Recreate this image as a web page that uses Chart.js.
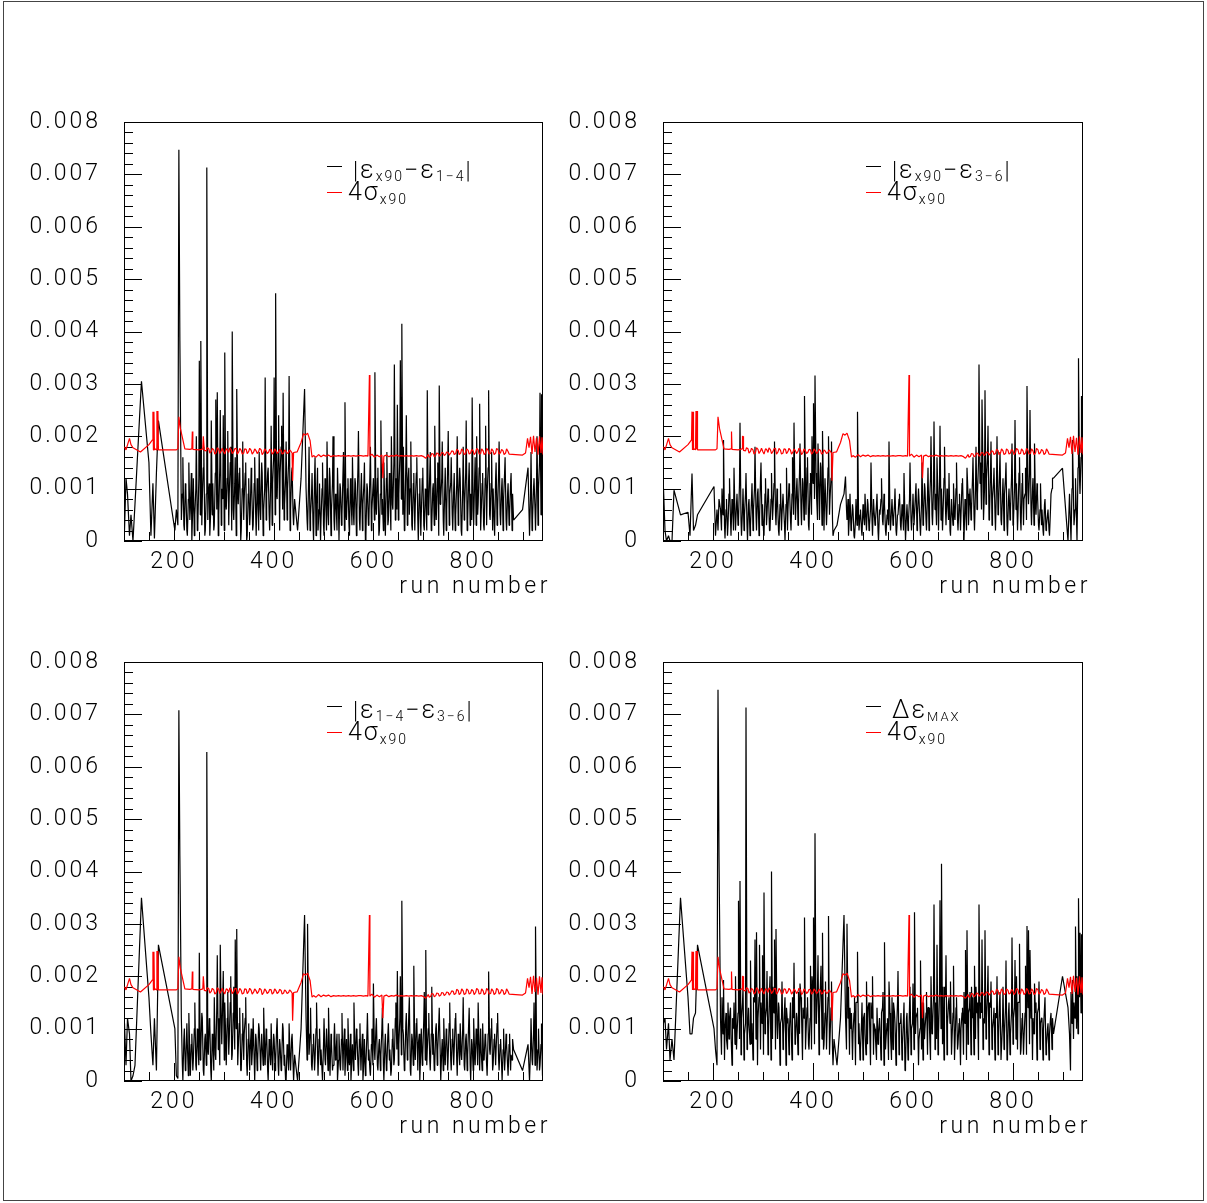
<!DOCTYPE html>
<html>
<head>
<meta charset="utf-8">
<script src="https://cdn.jsdelivr.net/npm/chart.js@4.4.1/dist/chart.umd.min.js"></script>
<style>
  body { margin: 0; background: #fff; }
  #page { position: relative; width: 1207px; height: 1203px; overflow: hidden; }
  #outer { position: absolute; left: 3px; top: 1px; width: 1199px; height: 1198px; border: 1px solid #444; }
  canvas { position: absolute; }
</style>
</head>
<body>
<div id="page">
  <div id="outer"></div>
  <canvas id="c1" width="558" height="503" style="left:0px;top:100px;width:558px;height:503px"></canvas>
  <canvas id="c2" width="559" height="503" style="left:539px;top:100px;width:559px;height:503px"></canvas>
  <canvas id="c3" width="558" height="503" style="left:0px;top:640px;width:558px;height:503px"></canvas>
  <canvas id="c4" width="559" height="503" style="left:539px;top:640px;width:559px;height:503px"></canvas>
</div>
<script>
// Run numbers shared by the four black curves
const runNumbers = [
  101,104,107,111,114,118,122,135,150,154,158,161,165,169,202,205,208,210,212,
  215,217,218,220,221,223,224,226,227,229,230,232,233,235,236,238,239,241,242,244,
  245,247,248,250,251,253,254,256,257,259,260,262,263,265,266,268,269,271,272,274,
  275,277,278,280,281,283,284,286,287,289,290,292,293,295,296,298,299,301,302,304,
  305,307,308,310,311,313,314,316,317,319,320,322,323,325,326,328,329,331,332,334,
  335,337,338,340,341,343,344,346,347,349,350,352,353,355,356,358,359,361,362,364,
  365,367,368,370,371,373,374,376,377,379,380,382,383,385,386,388,389,391,392,394,
  395,397,398,400,401,403,404,406,407,409,410,412,413,415,416,418,419,421,422,424,
  425,427,428,430,431,433,434,436,437,439,440,442,
  448,455,462,
  465,467,468,470,471,473,474,476,477,479,480,482,483,485,486,488,489,491,492,494,
  495,497,498,500,501,503,504,506,507,509,510,512,513,515,516,518,519,521,522,524,
  525,527,528,530,531,533,534,536,537,539,540,542,543,545,546,548,549,551,552,554,
  555,557,558,560,561,563,564,566,567,569,570,572,573,575,576,578,579,581,582,584,
  585,587,588,590,591,593,594,596,597,599,600,602,603,605,606,608,609,611,612,614,
  615,617,618,620,621,623,624,626,627,629,630,632,633,635,636,638,639,641,642,644,
  645,647,648,650,651,653,654,656,657,659,660,662,663,665,666,668,669,671,672,674,
  675,677,678,680,681,683,684,686,687,689,690,692,693,695,696,698,699,701,702,704,
  705,707,708,710,711,713,714,716,717,719,720,722,723,725,726,728,729,731,732,734,
  735,737,738,740,741,743,744,746,747,749,750,752,753,755,756,758,759,761,762,764,
  765,767,768,770,771,773,774,776,777,779,780,782,783,785,786,788,789,791,792,794,
  795,797,798,800,801,803,804,806,807,809,810,812,813,815,816,818,819,821,822,824,
  825,827,828,830,831,833,834,836,837,839,840,842,843,845,846,848,849,851,852,854,
  855,857,858,860,861,863,864,866,867,869,870,872,873,875,876,878,879,881,
  899,910,
  913,915,916,918,919,921,922,924,925,927,928,930,931,933,934,936,937,939,940
];

// Black curves, in units of 1e-3
// |eps_x90 - eps_1-4|
const diffX90vs14 = [
  0.2,1.2,0.9,0.1,0.5,0.0,0.7,3.05,1.5,0.1,1.1,0.05,1.3,2.3,0.2,0.6,0.3,7.47,3.82,
  0.4,0.9,1.6,0.3,0.2,1.1,1.0,0.2,0.1,0.8,1.5,0.4,0.6,1.3,0.0,0.7,1.2,0.1,0.5,1.0,
  2.0,0.2,0.3,1.2,3.44,0.5,3.82,0.3,0.8,1.4,1.8,0.1,0.2,0.9,7.13,0.4,0.9,1.1,0.1,0.6,
  2.3,0.5,1.1,0.2,0.3,1.3,2.7,0.6,2.84,0.1,0.5,1.4,2.5,0.3,1.0,0.8,2.4,0.2,3.6,0.7,
  0.6,1.2,2.1,0.3,0.9,1.5,1.8,0.2,4.0,0.6,0.4,1.1,1.6,0.1,2.9,0.9,0.7,1.3,1.4,0.0,
  0.2,1.0,1.9,0.4,0.8,1.3,1.5,0.0,0.1,0.9,1.2,0.3,0.5,1.4,1.1,0.2,0.3,1.1,1.6,0.5,
  0.1,1.2,0.9,0.2,1.7,0.6,0.4,1.5,1.3,0.1,0.6,1.0,3.12,0.4,0.9,1.3,1.4,0.5,0.2,1.1,
  2.2,0.3,1.1,1.6,3.12,0.5,4.73,0.9,0.8,1.7,2.4,0.2,1.3,1.8,2.2,0.6,2.83,0.4,0.7,1.2,
  1.9,0.4,1.0,1.5,3.15,0.2,0.6,1.3,1.4,0.5,0.3,0.8,
  0.2,1.2,2.9,
  1.0,0.4,0.2,1.1,1.8,0.2,0.5,0.9,1.3,0.3,0.0,1.2,1.6,0.1,0.7,1.4,0.2,0.6,1.1,0.0,
  0.4,1.0,1.5,0.3,0.1,1.2,0.9,0.2,1.9,0.5,0.3,1.4,1.2,0.1,0.6,1.1,2.0,0.4,0.2,0.9,
  0.8,0.2,1.4,0.6,0.0,1.1,1.0,0.3,0.5,1.3,1.7,0.2,2.65,0.5,0.4,1.0,1.2,0.3,0.1,1.2,
  0.9,0.3,1.6,0.5,0.3,1.2,1.1,0.1,0.6,1.4,2.1,0.4,0.2,1.0,1.3,0.2,0.7,1.1,1.5,0.0,
  0.1,1.1,1.0,0.3,0.4,1.3,1.8,0.2,0.6,1.0,1.2,0.4,3.22,0.7,0.5,1.2,1.4,0.1,0.2,0.9,
  2.3,0.5,0.8,0.2,1.5,0.6,0.1,1.2,1.7,0.3,0.4,1.3,1.0,0.2,2.0,0.7,0.6,1.5,3.37,0.4,
  1.2,0.6,2.6,0.4,0.9,1.6,3.45,0.8,4.15,0.5,1.8,0.2,0.3,1.5,2.4,0.3,1.1,1.4,0.5,1.0,
  1.9,0.3,0.2,1.1,1.3,0.2,0.7,1.3,1.6,0.4,0.0,0.9,1.2,0.1,0.5,1.2,1.4,0.3,0.2,1.0,
  0.9,0.2,2.88,0.5,0.6,1.3,1.7,0.2,0.3,1.0,1.1,0.3,2.2,0.6,0.4,1.2,1.5,0.1,2.97,0.7,
  0.8,1.2,1.9,0.4,0.1,1.0,1.4,0.2,0.6,1.5,2.1,0.3,0.9,1.1,1.6,0.5,0.2,1.0,1.3,0.2,
  0.5,1.1,2.0,0.3,0.8,1.4,1.2,0.2,0.1,1.0,1.8,0.4,0.7,1.3,2.3,0.2,0.4,1.2,1.5,0.3,
  0.9,0.4,2.74,0.6,0.3,1.2,1.6,0.3,2.0,0.5,0.7,1.4,2.62,0.2,0.5,1.1,1.3,0.3,0.2,1.2,
  2.2,0.3,0.9,1.4,2.88,0.5,0.4,1.1,1.7,0.2,1.0,0.4,0.1,1.2,1.5,0.3,0.6,1.3,1.9,0.5,
  0.3,1.0,1.2,0.2,0.8,1.3,1.6,0.4,0.2,0.9,1.1,0.3,0.5,1.1,1.3,0.2,0.9,0.4,
  0.6,1.4,
  0.1,0.9,1.7,0.2,0.4,1.0,1.2,0.6,0.2,1.1,2.0,0.3,1.0,1.5,2.83,0.5,2.8,1.2,0.1
];

// |eps_x90 - eps_3-6|
const diffX90vs36 = [
  1.0,0.2,0.0,0.1,0.0,0.0,0.97,0.5,0.55,0.1,1.29,0.2,0.3,0.5,1.04,0.1,0.6,0.2,0.8,
  0.6,0.2,1.0,0.5,1.93,0.3,0.05,0.6,0.8,0.1,0.3,0.9,1.2,0.4,0.1,0.8,0.7,0.2,1.4,0.5,
  0.2,0.7,0.9,0.3,0.4,1.1,2.26,0.4,0.1,0.6,1.0,0.2,0.5,0.9,1.3,0.3,0.0,0.7,0.8,0.1,
  0.3,0.8,1.1,0.2,0.6,1.0,1.8,0.5,0.2,0.9,1.0,0.1,0.4,1.2,1.5,0.3,0.7,0.2,0.1,0.9,
  1.2,0.3,0.5,1.0,0.9,0.2,0.2,0.8,1.3,0.4,0.6,1.1,1.9,0.5,0.3,1.0,0.8,0.2,0.1,0.7,
  1.1,0.2,0.5,0.9,0.9,0.3,0.0,0.7,1.4,0.2,0.6,1.1,1.0,0.4,0.2,0.9,1.6,0.5,2.26,0.8,
  0.4,1.0,1.2,0.3,0.7,1.3,1.86,0.6,0.3,1.2,1.1,0.4,2.77,1.0,0.5,1.4,1.6,0.3,0.2,1.1,
  1.3,0.5,2.0,1.1,2.63,0.8,3.16,1.3,0.9,0.4,1.86,1.0,0.4,1.5,1.4,0.3,2.1,0.9,0.2,1.2,
  1.2,0.3,0.6,1.4,2.0,0.5,0.8,1.2,1.9,0.4,0.1,0.2,
  0.3,0.7,0.9,
  1.23,0.6,0.4,0.8,0.1,0.5,0.9,0.2,0.3,0.7,0.6,0.1,0.05,0.4,0.8,0.3,2.47,0.6,0.2,0.5,
  0.6,0.2,0.1,0.7,0.5,0.3,0.9,0.4,0.2,0.8,0.7,0.2,0.3,0.6,1.5,0.4,0.1,0.8,0.6,0.3,
  0.4,0.7,0.9,0.2,0.0,0.6,0.5,0.8,1.2,0.4,0.3,0.9,0.7,0.2,0.1,0.5,0.6,0.3,1.9,0.4,
  0.2,0.6,0.8,0.3,0.4,0.7,1.0,0.2,0.1,0.5,0.5,0.8,0.9,0.3,0.2,0.7,0.6,0.2,1.3,0.4,
  0.0,0.5,0.7,0.2,0.4,0.8,1.5,0.4,0.2,0.6,0.9,0.3,0.3,0.9,1.1,0.2,0.5,1.0,0.8,0.3,
  0.1,0.7,1.5,0.3,0.4,1.1,1.0,0.4,0.2,0.9,1.4,0.2,0.7,1.2,2.0,0.5,0.3,1.0,2.28,0.6,
  0.9,0.3,1.6,0.8,0.2,1.1,2.2,0.4,1.0,0.2,0.5,1.2,1.8,0.6,0.3,1.0,0.8,0.4,1.3,0.2,
  0.1,0.8,0.6,0.3,1.1,0.5,0.4,1.0,1.5,0.4,0.2,0.7,0.9,0.2,0.5,1.1,1.2,0.4,0.0,0.8,
  0.7,0.2,1.4,0.9,0.3,0.8,1.0,0.4,0.6,1.2,1.6,0.5,0.2,1.0,1.8,0.6,0.9,1.5,3.37,1.1,
  1.5,0.6,2.7,1.3,0.4,1.0,2.88,0.7,1.2,1.6,2.2,0.4,0.5,1.3,1.9,0.3,0.8,1.1,1.4,0.5,
  0.2,1.1,2.0,0.5,0.6,1.3,1.7,0.4,0.3,0.9,1.2,0.2,0.9,1.2,1.5,0.3,0.1,0.8,1.0,0.4,
  0.6,1.2,1.86,0.3,0.4,1.0,2.31,0.6,1.1,0.2,0.5,1.3,1.6,0.4,0.2,1.1,1.3,0.3,0.8,0.9,
  1.4,0.4,2.96,1.0,0.7,1.3,2.5,0.6,0.3,1.0,1.2,0.3,1.86,0.7,0.5,1.1,0.9,0.3,0.2,0.6,
  1.1,0.3,0.6,0.2,0.1,0.7,0.8,0.2,0.3,0.5,0.6,0.2,0.1,0.6,0.9,1.0,1.2,1.2,
  1.39,0.0,
  0.9,0.3,0.0,1.0,1.93,0.8,0.3,0.6,1.2,0.4,0.0,1.4,3.49,1.2,0.9,1.6,2.77,1.0,0.5
];

// |eps_1-4 - eps_3-6|
const diff14vs36 = [
  1.1,0.3,1.2,0.9,0.0,0.1,0.3,3.5,1.6,0.9,0.3,1.2,0.2,2.6,1.0,0.1,0.05,7.08,4.29,
  1.2,0.3,0.0,0.8,1.0,0.2,0.3,1.1,0.7,0.1,1.3,0.5,0.1,0.7,0.9,0.2,0.4,1.0,1.5,0.3,
  0.2,1.0,0.8,0.3,2.45,0.4,0.6,1.3,1.2,0.2,0.1,0.8,0.9,0.3,6.28,0.6,0.5,1.2,1.1,0.2,
  0.0,0.9,0.8,0.2,1.6,0.5,0.4,1.4,2.4,0.6,1.2,0.3,2.6,1.1,0.7,1.6,2.1,0.4,1.5,0.8,
  0.3,1.2,1.7,0.5,0.8,1.5,2.0,0.4,0.5,1.3,1.8,0.6,2.7,1.0,2.9,0.3,0.6,1.1,1.4,0.2,
  0.2,0.9,1.3,0.4,0.9,1.2,1.6,0.3,0.1,0.8,1.1,0.2,0.6,1.0,0.3,0.7,1.2,0.4,0.0,0.9,
  0.8,0.2,0.4,1.1,1.0,0.5,0.2,0.9,0.7,0.3,1.4,0.6,0.3,1.0,0.9,0.2,0.0,0.8,0.6,0.3,
  1.1,0.4,0.2,0.9,0.8,0.2,0.4,1.0,1.2,0.3,0.1,0.8,0.7,0.2,0.3,1.1,1.0,0.3,0.5,0.0,
  0.0,0.7,0.6,0.2,1.1,0.4,0.2,0.8,0.9,0.3,0.0,0.5,
  0.0,1.0,3.17,
  1.2,0.4,3.0,1.1,0.5,0.9,1.4,0.3,0.2,0.7,0.9,0.2,0.4,1.0,1.5,0.5,0.1,0.8,1.0,0.3,
  0.6,0.2,0.0,0.7,1.2,0.4,0.3,1.0,0.8,0.2,1.4,0.5,0.1,0.9,0.7,0.2,0.3,0.8,1.1,0.4,
  0.5,0.9,0.0,0.4,0.9,0.3,0.2,0.8,1.3,0.2,0.6,1.0,0.1,0.6,0.8,0.2,1.2,0.4,0.3,0.9,
  0.0,0.5,0.7,0.2,1.5,0.6,0.4,1.0,0.9,0.3,0.1,0.8,1.1,0.2,0.5,0.9,0.0,0.4,0.8,0.1,
  0.3,0.9,1.3,0.4,0.6,0.2,0.1,0.7,1.0,0.3,1.86,0.6,0.4,1.0,1.2,0.3,0.2,0.7,0.8,0.2,
  0.5,1.0,1.4,0.3,0.0,0.7,0.9,0.2,0.3,0.9,1.1,0.4,0.6,0.1,0.2,0.8,1.0,0.3,0.4,1.2,
  1.5,0.6,2.1,0.3,0.7,1.2,2.0,0.5,3.44,1.0,0.9,0.2,0.3,1.1,1.3,0.4,0.6,1.3,1.6,0.2,
  0.1,0.9,0.8,0.3,2.2,0.6,0.4,1.1,1.2,0.2,0.7,0.9,0.0,0.6,1.0,0.3,0.5,1.2,1.7,0.4,
  2.5,0.3,0.6,1.0,1.3,0.4,0.2,0.9,1.8,0.5,0.9,0.2,0.3,1.0,1.1,0.3,0.6,1.1,1.4,0.5,
  0.0,0.6,0.8,0.2,1.2,0.5,0.3,1.0,0.9,0.2,0.5,1.1,1.5,0.4,0.2,0.8,1.0,0.3,0.6,1.2,
  1.3,0.4,0.1,0.9,0.8,0.3,1.1,0.5,0.4,1.0,1.6,0.3,0.2,0.8,0.9,0.2,0.5,1.1,1.4,0.3,
  0.0,0.8,0.7,0.2,1.2,0.5,0.3,1.0,0.9,0.3,1.5,0.6,0.2,1.0,0.6,0.2,1.1,0.4,0.4,0.9,
  0.8,0.3,0.1,0.9,2.09,0.6,0.5,1.0,1.2,0.2,0.3,0.8,0.9,0.3,0.6,1.1,1.3,0.4,0.2,0.7,
  0.8,0.3,0.0,0.6,1.0,0.2,0.4,0.9,0.7,0.3,0.1,0.7,0.9,0.2,0.5,0.4,0.8,0.6,
  0.2,0.7,
  0.0,0.6,1.2,0.4,0.3,0.9,1.5,0.3,2.95,0.8,0.2,0.6,1.0,0.2,0.3,0.7,1.1,0.1,0.4
];

// delta eps MAX
const deltaEpsMax = [
  1.1,1.2,0.6,1.1,0.4,0.8,0.4,3.5,1.6,0.9,0.9,1.2,1.3,2.6,1.0,0.6,0.3,7.47,4.29,
  1.2,0.5,1.6,0.9,1.93,0.4,1.0,1.3,0.8,0.6,1.5,0.8,1.2,1.4,0.9,0.3,1.2,1.0,1.5,0.7,
  2.0,0.6,0.9,1.3,3.44,0.8,3.82,0.5,1.2,1.5,1.8,0.4,0.9,1.1,7.13,0.6,0.9,1.4,1.1,0.7,
  2.3,0.7,1.1,0.4,1.6,1.5,2.7,0.8,2.84,0.3,1.2,1.6,2.6,0.6,1.5,1.1,2.4,0.5,3.6,0.9,
  1.2,1.4,2.1,0.5,0.9,1.7,2.0,0.4,4.0,0.8,1.8,1.3,2.7,0.6,2.9,1.1,0.8,1.5,1.4,0.3,
  1.1,1.2,1.9,0.6,0.9,1.4,1.6,0.3,1.4,1.1,1.2,0.5,1.0,1.5,1.1,0.4,1.6,1.2,2.26,0.7,
  0.8,1.3,1.2,0.5,1.7,0.9,1.86,1.6,1.3,0.4,1.4,1.2,3.12,0.6,0.9,1.4,1.6,0.7,0.6,1.2,
  2.2,0.6,2.0,1.7,3.12,0.7,4.73,1.1,1.2,1.8,2.4,0.5,1.3,1.9,2.2,0.8,2.83,0.6,0.7,1.3,
  1.9,0.6,1.0,1.6,3.15,0.5,0.8,1.4,1.9,0.6,0.3,0.8,
  0.3,1.2,3.17,
  1.23,0.6,3.0,1.2,1.8,0.5,1.4,1.0,1.3,0.4,0.9,1.3,1.6,0.3,1.5,1.5,2.47,0.7,1.1,0.4,
  0.6,1.1,1.5,0.4,1.2,1.3,0.9,0.5,1.9,0.7,1.4,1.5,1.2,0.3,1.5,1.2,2.0,0.5,1.1,1.0,
  0.8,0.4,1.4,0.7,0.9,1.2,1.0,0.4,1.3,1.4,1.7,0.3,2.65,0.6,0.8,1.1,1.2,0.4,1.9,1.3,
  0.9,0.4,1.6,0.6,1.5,1.3,1.1,0.3,0.9,1.5,2.1,0.5,1.1,1.1,1.3,0.4,0.7,1.2,1.5,0.2,
  0.3,1.2,1.3,0.4,0.6,1.4,1.8,0.5,1.0,1.1,1.86,0.6,3.22,0.9,1.2,1.3,1.4,0.3,0.8,1.0,
  2.3,0.6,1.5,0.4,1.5,0.8,1.0,1.3,1.7,0.5,1.4,1.4,1.0,0.4,2.0,0.9,1.0,1.6,3.37,0.6,
  1.5,0.8,2.6,0.5,0.9,1.7,3.45,1.0,4.15,0.7,1.8,0.4,1.8,1.6,2.4,0.5,1.1,1.5,1.6,1.1,
  1.9,0.5,0.8,1.3,2.2,0.4,0.7,1.4,1.6,0.6,0.7,1.1,1.2,0.3,1.0,1.3,1.4,0.5,1.7,1.1,
  2.5,0.4,2.88,0.7,1.3,1.4,1.7,0.5,1.8,1.2,1.6,0.5,2.2,0.8,1.8,1.3,1.5,0.4,3.37,1.2,
  1.5,1.3,2.7,0.6,1.2,1.1,2.88,0.8,1.2,1.7,2.2,0.5,1.5,1.4,1.9,0.6,1.0,1.2,1.4,0.4,
  1.3,1.2,2.0,0.5,0.8,1.5,1.7,0.4,0.4,1.1,1.8,0.6,0.9,1.4,2.3,0.4,0.5,1.3,1.5,0.5,
  0.9,1.3,2.74,0.7,1.2,1.4,2.31,0.8,2.0,0.6,1.5,1.5,2.62,0.5,0.6,1.2,1.3,0.5,0.8,1.3,
  2.2,0.5,2.96,1.4,2.88,0.7,2.5,1.2,1.7,0.4,1.2,0.9,1.86,1.3,1.5,0.4,1.3,1.4,1.9,0.6,
  1.1,1.2,1.2,0.4,1.0,1.4,1.6,0.5,0.7,1.0,1.1,0.4,0.9,1.2,1.3,0.6,1.2,0.9,
  2.0,1.4,
  0.9,0.2,1.7,1.1,1.93,0.8,1.5,1.2,2.95,1.0,2.0,0.9,3.49,1.6,2.83,1.3,2.8,1.8,1.0
];

// Red curve 4*sigma_x90 (same in every pad), units of 1e-3
const sigmaRuns = [
  101,104,111,114,118,133,150,157,158,159,160,161,163,165,166,167,168,169,
  205,208,210,213,222,232,236,237,238,250,255,258,259,260,261,
  265,267,270,272,275,277,280,282,285,287,290,292,295,297,300,302,305,307,310,312,
  315,317,320,322,325,327,330,332,335,337,340,342,345,347,350,352,355,357,360,362,
  365,367,370,372,375,377,380,382,385,387,390,392,395,397,400,402,405,407,410,412,
  415,417,420,422,425,427,430,432,
  434,437,438,440,447,455,460,464,468,473,477,
  480,485,490,495,500,505,510,515,520,525,530,535,540,545,550,555,560,565,570,575,580,585,
  589,592,593,597,602,607,612,617,619,621,
  626,631,636,641,646,651,656,661,666,671,676,681,686,691,696,701,705,
  710,712,715,717,720,722,725,727,730,732,735,737,740,742,745,747,750,752,755,757,
  760,762,765,767,770,772,775,777,780,782,785,787,790,792,795,797,800,802,805,807,
  810,812,815,817,820,822,825,827,830,832,835,837,840,842,845,847,850,852,855,857,
  860,862,865,867,870,872,
  899,905,909,912,915,918,921,924,927,930,933,936,938,940
];
const sigmaX90 = [
  1.80,1.74,1.96,1.84,1.78,1.70,1.84,1.93,2.47,1.74,2.47,1.74,1.76,1.74,2.48,1.75,2.48,1.74,
  1.74,1.76,2.37,2.15,1.76,1.75,1.76,2.09,1.75,1.74,1.75,1.76,2.00,2.00,1.73,
  1.72,1.78,1.76,1.68,1.71,1.77,1.74,1.66,1.69,1.78,1.75,1.67,1.72,1.77,1.70,1.66,1.76,1.75,1.69,1.78,
  1.74,1.67,1.71,1.76,1.77,1.66,1.70,1.77,1.73,1.66,1.68,1.76,1.75,1.67,1.71,1.77,1.73,1.66,1.70,1.76,
  1.72,1.67,1.71,1.77,1.74,1.65,1.69,1.76,1.72,1.67,1.70,1.75,1.74,1.66,1.69,1.76,1.72,1.67,1.70,1.75,
  1.73,1.66,1.68,1.74,1.71,1.67,1.69,1.74,
  1.72,1.68,1.15,1.69,1.70,1.88,2.05,2.02,2.06,1.92,1.60,
  1.63,1.60,1.65,1.61,1.64,1.62,1.64,1.61,1.63,1.62,1.63,1.62,1.63,1.62,1.63,1.62,1.63,1.62,1.63,1.63,1.62,1.63,
  1.62,3.17,1.62,1.66,1.60,1.64,1.61,1.64,1.20,1.62,
  1.64,1.61,1.63,1.62,1.64,1.62,1.63,1.62,1.63,1.62,1.63,1.62,1.63,1.62,1.63,1.61,1.58,
  1.65,1.60,1.62,1.67,1.66,1.61,1.63,1.68,1.67,1.62,1.64,1.69,1.68,1.63,1.66,1.70,1.69,1.64,1.68,1.72,
  1.71,1.65,1.67,1.75,1.73,1.65,1.68,1.76,1.72,1.65,1.67,1.76,1.73,1.66,1.68,1.75,1.72,1.65,1.69,1.77,
  1.74,1.66,1.67,1.76,1.72,1.65,1.68,1.77,1.73,1.66,1.67,1.76,1.72,1.65,1.68,1.77,1.74,1.66,1.69,1.75,
  1.72,1.65,1.68,1.76,1.71,1.66,
  1.64,1.68,1.96,1.78,1.99,1.66,2.01,1.70,1.97,1.65,2.00,1.68,1.98,1.65
];

// Axes
const xRange = [100, 940];
const xTickValues = [200, 400, 600, 800];
const yTickValues = [0, 0.001, 0.002, 0.003, 0.004, 0.005, 0.006, 0.007, 0.008];
const yTickLabels = ['0', '0.001', '0.002', '0.003', '0.004', '0.005', '0.006', '0.007', '0.008'];
const xTitle = 'run number';
const MILLI = 1e-3;

const FONT = "'Roboto', 'Liberation Sans', sans-serif";

// Legend texts: [text, font size, baseline shift]
const legendTop = [
  [['|', 23, 0], ['ε', 25, 0], ['x90', 14, 3], ['−', 25, 0], ['ε', 25, 0], ['1−4', 14, 3], ['|', 23, 0]],
  [['|', 23, 0], ['ε', 25, 0], ['x90', 14, 3], ['−', 25, 0], ['ε', 25, 0], ['3−6', 14, 3], ['|', 23, 0]],
  [['|', 23, 0], ['ε', 25, 0], ['1−4', 14, 3], ['−', 25, 0], ['ε', 25, 0], ['3−6', 14, 3], ['|', 23, 0]],
  [['Δ', 25, 0], ['ε', 25, 0], ['MAX', 13, 3]]
];
const legendSigma = [['4', 25, 0], ['σ', 25, 0], ['x90', 14, 4]];

function drawRich(ctx, x, y, parts) {
  parts.forEach(([t, size, dy]) => {
    ctx.font = `300 ${size}px ${FONT}`;
    ctx.fillText(t, x, y + dy);
    x += ctx.measureText(t).width;
  });
}

// ROOT-like frame, inner ticks, legend and axis title
const rootPad = {
  id: 'rootPad',
  beforeDraw(chart) {
    chart.ctx.letterSpacing = '3px';
  },
  beforeDatasetsDraw(chart) {
    const { ctx, chartArea: a, scales: { x, y } } = chart;
    ctx.save();
    ctx.strokeStyle = '#000';
    ctx.lineWidth = 1;
    ctx.strokeRect(a.left + 0.5, a.top + 0.5, a.right - a.left - 1, a.bottom - a.top - 1);
    ctx.beginPath();
    for (let i = 0; i <= 40; i++) {
      const py = Math.round(y.getPixelForValue(i * 0.0002)) + 0.5;
      const len = i % 5 === 0 ? 18 : 9;
      ctx.moveTo(a.left, py);
      ctx.lineTo(a.left + len, py);
    }
    for (let v = 150; v <= 900; v += 50) {
      const px = Math.round(x.getPixelForValue(v)) + 0.5;
      const len = v % 200 === 0 ? 18 : 9;
      ctx.moveTo(px, a.bottom);
      ctx.lineTo(px, a.bottom - len);
    }
    ctx.stroke();
    ctx.restore();
  },
  afterDraw(chart, args, opts) {
    const { ctx, chartArea: a } = chart;
    ctx.save();
    ctx.fillStyle = '#000';
    ctx.textBaseline = 'alphabetic';
    // axis title
    ctx.letterSpacing = '3.5px';
    ctx.font = `300 23px ${FONT}`;
    ctx.textAlign = 'right';
    ctx.fillText(xTitle, a.right + 8, a.bottom + 52);
    // legend
    ctx.textAlign = 'left';
    ctx.letterSpacing = '2px';
    ctx.lineWidth = 1;
    ctx.strokeStyle = '#000';
    ctx.beginPath();
    ctx.moveTo(a.left + 203, a.top + 44.5);
    ctx.lineTo(a.left + 218, a.top + 44.5);
    ctx.stroke();
    ctx.strokeStyle = '#ff0000';
    ctx.beginPath();
    ctx.moveTo(a.left + 203, a.top + 70.5);
    ctx.lineTo(a.left + 218, a.top + 70.5);
    ctx.stroke();
    drawRich(ctx, a.left + 229, a.top + 56, opts.label);
    drawRich(ctx, a.left + 224, a.top + 78, legendSigma);
    ctx.restore();
    ctx.letterSpacing = '0px';
  }
};

function toPoints(xs, vals) {
  return xs.map((r, i) => ({ x: r, y: vals[i] * MILLI }));
}

function makePad(id, values, label) {
  if (values.length !== runNumbers.length) console.warn(id, values.length, runNumbers.length);
  const tickFont = { family: FONT, size: 23, weight: 300 };
  return new Chart(document.getElementById(id), {
    type: 'line',
    data: {
      datasets: [
        {
          data: toPoints(sigmaRuns, sigmaX90),
          borderColor: '#ff0000',
          borderWidth: 1.2,
          pointRadius: 0,
          borderJoinStyle: 'bevel',
          tension: 0
        },
        {
          data: toPoints(runNumbers, values),
          borderColor: '#000000',
          borderWidth: 1.2,
          pointRadius: 0,
          borderJoinStyle: 'bevel',
          tension: 0
        }
      ]
    },
    options: {
      responsive: false,
      animation: false,
      devicePixelRatio: 1,
      layout: { padding: { left: 0, top: 22, right: 15, bottom: 0 } },
      plugins: {
        legend: { display: false },
        tooltip: { enabled: false },
        rootPad: { label }
      },
      scales: {
        x: {
          type: 'linear',
          min: xRange[0],
          max: xRange[1],
          grid: { display: false, drawTicks: false },
          border: { display: false },
          afterBuildTicks: s => { s.ticks = xTickValues.map(v => ({ value: v })); },
          afterFit: s => { s.height = 62; s.paddingLeft = 0; s.paddingRight = 0; },
          ticks: { font: tickFont, color: '#000', padding: 7, maxRotation: 0, autoSkip: false }
        },
        y: {
          type: 'linear',
          min: 0,
          max: 0.008,
          grid: { display: false, drawTicks: false },
          border: { display: false },
          afterBuildTicks: s => { s.ticks = yTickValues.map(v => ({ value: v })); },
          afterFit: s => { s.width = 124; s.paddingTop = 0; s.paddingBottom = 0; },
          ticks: {
            font: tickFont,
            color: '#000',
            padding: 23,
            autoSkip: false,
            callback: (v, i) => yTickLabels[i]
          }
        }
      }
    },
    plugins: [rootPad]
  });
}

makePad('c1', diffX90vs14, legendTop[0]);
makePad('c2', diffX90vs36, legendTop[1]);
makePad('c3', diff14vs36, legendTop[2]);
makePad('c4', deltaEpsMax, legendTop[3]);
</script>
</body>
</html>
